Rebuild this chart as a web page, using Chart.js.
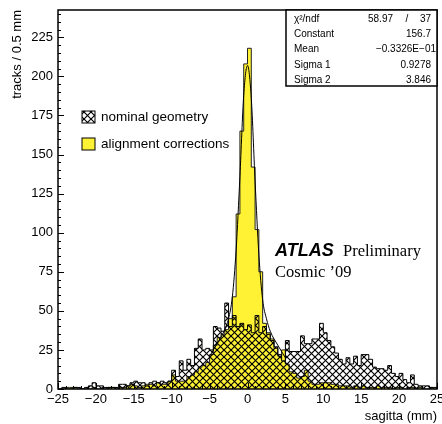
<!DOCTYPE html>
<html>
<head>
<meta charset="utf-8">
<script src="https://cdn.jsdelivr.net/npm/chart.js@4.4.1/dist/chart.umd.min.js"></script>
<style>
    html, body { margin: 0; padding: 0; background: #fff; }
    #wrap { width: 442px; height: 424px; }
</style>
</head>
<body>
<div id="wrap"><canvas id="sagittaChart" width="442" height="424"></canvas></div>
<script>
// 100 bins of 0.5 mm from -25 to 25 mm
var binLow = -25;
var binWidth = 0.5;

// nominal geometry (hatched), tracks per bin
var nominal = [
    0, 1, 0, 0, 1, 1, 0, 1, 2, 4,
    2, 2, 1, 1, 1, 1, 3, 3, 2, 4,
    5, 4, 4, 2, 4, 5, 4, 5, 4, 5,
    12, 8, 18, 12, 19, 15, 26, 32, 25, 26,
    25, 40, 39, 37, 55, 40, 47, 40, 42, 38,
    41, 36, 47, 36, 40, 35, 31, 27, 22, 18,
    31, 24, 24, 24, 34, 29, 29, 32, 32, 42,
    36, 31, 27, 23, 19, 16, 20, 16, 21, 15,
    22, 22, 19, 14, 13, 13, 12, 15, 10, 8,
    10, 6, 4, 9, 3, 2, 2, 2, 1, 1
];

// alignment corrections (yellow), tracks per bin
var aligned = [
    0, 0, 1, 1, 1, 0, 0, 0, 0, 1,
    0, 0, 0, 1, 1, 0, 1, 1, 2, 3,
    2, 1, 2, 3, 3, 2, 4, 3, 3, 5,
    9, 5, 5, 5, 8, 9, 11, 14, 15, 17,
    22, 28, 33, 35, 38, 45, 59, 112, 165, 208,
    218, 142, 102, 75, 42, 36, 32, 26, 21, 25,
    16, 11, 10, 7, 8, 12, 5, 3, 3, 4,
    4, 4, 3, 3, 2, 2, 2, 1, 2, 1,
    2, 1, 1, 1, 2, 1, 1, 1, 0, 1,
    1, 0, 1, 1, 0, 1, 0, 0, 1, 0
];

// double gaussian fit curve
var fitX = [-5, -4, -3, -2.5, -2, -1.5, -1, -0.5, 0, 0.5, 1, 1.5, 2, 2.5, 3, 4, 5];
var fitY = [21, 29, 38, 45, 59, 89, 136, 188, 207, 186, 133, 86, 57, 45, 37, 28, 20];

var statLabels = ["\u03c7\u00b2/ndf", "Constant", "Mean", "Sigma 1", "Sigma 2"];
var statValues = ["58.97", "156.7", "\u22120.3326E\u221201", "0.9278", "3.846"];
var ndf = "37";

var yellow = "rgb(255, 241, 51)";

function stepPoints(counts) {
    var pts = [{ x: binLow, y: 0 }];
    counts.forEach(function (c, i) {
        pts.push({ x: binLow + i * binWidth, y: c });
    });
    var end = binLow + counts.length * binWidth;
    pts.push({ x: end, y: counts[counts.length - 1] });
    pts.push({ x: end, y: 0 });
    return pts;
}

var ctx = document.getElementById("sagittaChart").getContext("2d");

function makeHatch() {
    var s = 7;
    var p = document.createElement("canvas");
    p.width = s;
    p.height = s;
    var g = p.getContext("2d");
    g.strokeStyle = "#000";
    g.lineWidth = 1.15;
    for (var k = -1; k <= 1; k++) {
        g.beginPath(); g.moveTo(k * s, 0); g.lineTo(k * s + s, s); g.stroke();
        g.beginPath(); g.moveTo(k * s + s, 0); g.lineTo(k * s, s); g.stroke();
    }
    return ctx.createPattern(p, "repeat");
}
var hatch = makeHatch();

function minus(v) {
    return String(v).replace("-", "\u2212");
}

// ROOT style frame, inward ticks, legend, stats box and labels
var rootFrame = {
    id: "rootFrame",
    afterDraw: function (chart) {
        var c = chart.ctx, a = chart.chartArea;
        var xs = chart.scales.x, ys = chart.scales.y;
        c.save();
        c.strokeStyle = "#000";
        c.lineWidth = 1;
        c.beginPath();
        for (var v = 0; v <= ys.max; v += 5) {
            var py = Math.round(ys.getPixelForValue(v)) + 0.5;
            c.moveTo(a.left, py);
            c.lineTo(a.left + (v % 25 === 0 ? 6 : 3), py);
        }
        for (var u = xs.min; u <= xs.max; u += 1) {
            var px = Math.round(xs.getPixelForValue(u)) + 0.5;
            c.moveTo(px, a.bottom);
            c.lineTo(px, a.bottom - (u % 5 === 0 ? 6 : 3));
        }
        c.stroke();
        c.lineWidth = 1.5;
        c.strokeRect(a.left, a.top, a.right - a.left, a.bottom - a.top);

        // legend
        c.lineWidth = 1;
        c.fillStyle = "#fff";
        c.fillRect(82, 111, 13, 12);
        c.fillStyle = hatch;
        c.fillRect(82, 111, 13, 12);
        c.strokeRect(82, 111, 13, 12);
        c.fillStyle = yellow;
        c.fillRect(82, 138, 13, 12);
        c.strokeRect(82, 138, 13, 12);
        c.fillStyle = "#000";
        c.font = "13.5px 'Liberation Sans', Arial, sans-serif";
        c.textAlign = "left";
        c.textBaseline = "alphabetic";
        c.fillText("nominal geometry", 101, 121);
        c.fillText("alignment corrections", 101, 147.5);

        // stats box
        var bx = 286, by = a.top, bw = a.right - bx, bh = 86 - a.top;
        c.fillStyle = "#fff";
        c.fillRect(bx, by, bw, bh);
        c.lineWidth = 1.5;
        c.strokeRect(bx, by, bw, bh);
        c.fillStyle = "#000";
        c.font = "10px 'Liberation Sans', Arial, sans-serif";
        for (var i = 0; i < statLabels.length; i++) {
            var base = 22 + i * 15.2;
            c.textAlign = "left";
            c.fillText(statLabels[i], 294, base);
            c.textAlign = "right";
            c.fillText(statValues[i], i === 0 ? 393 : (i === 2 ? 436 : 431), base);
        }
        c.textAlign = "center";
        c.fillText("/", 407, 22);
        c.textAlign = "right";
        c.fillText(ndf, 431, 22);

        // experiment label
        c.textAlign = "left";
        c.font = "italic bold 18px 'Liberation Sans', Arial, sans-serif";
        c.fillText("ATLAS", 275, 256);
        c.font = "16.5px 'Liberation Serif', 'Times New Roman', serif";
        c.fillText("Preliminary", 343, 256);
        c.fillText("Cosmic \u201909", 275, 277);
        c.restore();
    }
};

var fitPoints = fitX.map(function (x, i) { return { x: x, y: fitY[i] }; });

new Chart(ctx, {
    type: "line",
    data: {
        datasets: [
            {
                label: "fit",
                data: fitPoints,
                borderColor: "#000",
                borderWidth: 1,
                pointRadius: 0,
                fill: false,
                cubicInterpolationMode: "monotone",
                order: 0
            },
            {
                label: "nominal geometry",
                data: stepPoints(nominal),
                stepped: true,
                borderColor: "#000",
                borderWidth: 1,
                backgroundColor: hatch,
                fill: "origin",
                pointRadius: 0,
                order: 1
            },
            {
                label: "alignment corrections",
                data: stepPoints(aligned),
                stepped: true,
                borderColor: "#222",
                borderWidth: 1,
                backgroundColor: yellow,
                fill: "origin",
                pointRadius: 0,
                order: 2
            }
        ]
    },
    options: {
        responsive: false,
        animation: false,
        layout: { padding: { top: 10, right: 5, left: 0, bottom: 0 } },
        plugins: {
            legend: { display: false },
            tooltip: { enabled: false }
        },
        scales: {
            x: {
                type: "linear",
                min: -25,
                max: 25,
                grid: { display: false, drawTicks: false },
                border: { display: false },
                ticks: {
                    stepSize: 5,
                    padding: 3,
                    color: "#000",
                    maxRotation: 0,
                    font: { family: "'Liberation Sans', Arial, sans-serif", size: 13 },
                    callback: function (v) { return minus(v); }
                },
                title: {
                    display: true,
                    text: "sagitta (mm)",
                    align: "end",
                    color: "#000",
                    padding: { top: 0, bottom: 0 },
                    font: { family: "'Liberation Sans', Arial, sans-serif", size: 13 }
                },
                afterFit: function (s) {
                    s.height = 35;
                    s.paddingLeft = 0;
                    s.paddingRight = 0;
                }
            },
            y: {
                min: 0,
                max: 242.5,
                grid: { display: false, drawTicks: false },
                border: { display: false },
                ticks: {
                    stepSize: 25,
                    padding: 5,
                    color: "#000",
                    font: { family: "'Liberation Sans', Arial, sans-serif", size: 13 },
                    callback: function (v) { return v % 25 === 0 ? String(v) : ""; }
                },
                title: {
                    display: true,
                    text: "tracks / 0.5 mm",
                    align: "end",
                    color: "#000",
                    padding: { top: 10, bottom: 0 },
                    font: { family: "'Liberation Sans', Arial, sans-serif", size: 13 }
                },
                afterFit: function (s) {
                    s.width = 58;
                    s.paddingTop = 0;
                    s.paddingBottom = 0;
                }
            }
        }
    },
    plugins: [rootFrame]
});
</script>
</body>
</html>
